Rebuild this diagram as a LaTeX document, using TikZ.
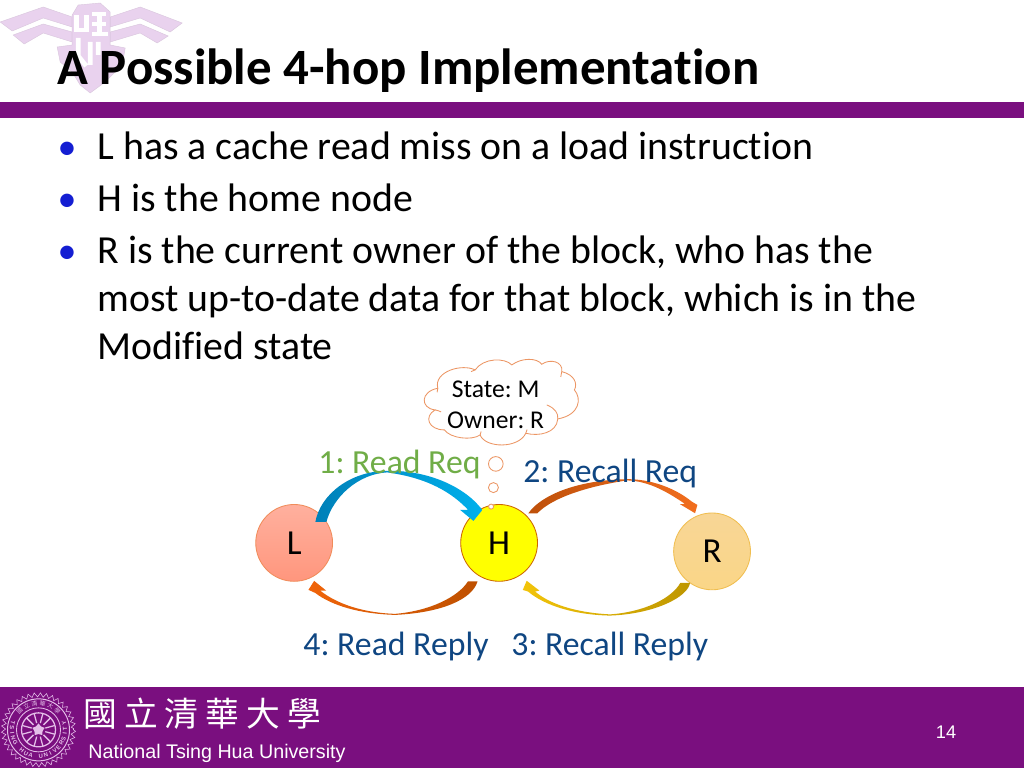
\documentclass[tikz,border=0pt]{standalone}
\usepackage{fontspec}
\setmainfont[Ligatures=NoCommon]{Carlito}
\newfontfamily\arialfont{Liberation Sans}
\newfontfamily\cjkfont{Noto Sans CJK TC}
\frenchspacing
\usetikzlibrary{calc,shapes.geometric,decorations.pathmorphing}
\definecolor{nthupurple}{RGB}{122,15,127}
\definecolor{logopink}{RGB}{233,210,238}
\definecolor{sealpink}{RGB}{228,190,232}
\definecolor{bulletblue}{RGB}{20,30,210}
\definecolor{msgblue}{RGB}{15,70,130}
\definecolor{msggreen}{RGB}{112,173,71}
\definecolor{cloudedge}{RGB}{236,150,100}
\definecolor{hopyellow}{RGB}{255,255,0}

\begin{document}
\begin{tikzpicture}[
    x=0.025cm, y=-0.025cm,
    titletxt/.style={anchor=base west, inner sep=0, font=\fontsize{36.2}{42}\selectfont\bfseries},
    body/.style={anchor=base west, inner sep=0, font=\fontsize{28.3}{34}\selectfont},
    bullet/.style={anchor=base, inner sep=0, text=bulletblue, font=\fontsize{27}{30}\selectfont},
    msg/.style={anchor=base west, inner sep=0, text=msgblue, font=\fontsize{24}{29}\selectfont},
    hop/.style={circle, draw, line width=0.6pt, minimum size=1.92cm, inner sep=0, outer sep=0, font=\fontsize{25}{30}\selectfont},
    swoosh/.style={draw=none},
    puff/.style={circle, draw=cloudedge, fill=white, line width=0.6pt, inner sep=0},
    cloudline/.style={draw=cloudedge, line width=0.6pt},
    wing/.style={fill=logopink, draw=logopink!85!gray, line width=0.3pt},
    glyph/.style={draw=white, line width=3.4pt},
    sealtxt/.style={inner sep=0, text=sealpink, font=\arialfont\fontsize{4.2}{5}\selectfont\bfseries}
]

% Page
\path[fill=white] (0,0) rectangle (1024,768);

% Logo behind the title
\draw[wing] (0,22) -- (43,7) -- (72,17) -- (72,27) -- (43,18) -- (12,31) -- cycle;
\draw[wing] (13,35) -- (43,24) -- (72,32) -- (72,42) -- (43,33) -- (24,44) -- cycle;
\draw[wing] (182,23) -- (140,7) -- (110,17) -- (110,27) -- (140,18) -- (170,32) -- cycle;
\draw[wing] (168,36) -- (140,24) -- (110,32) -- (110,42) -- (140,33) -- (157,43) -- cycle;
\draw[wing] (78,5) -- (100,3) -- (110,12) -- (110,45) -- (125,48) -- (122,65) -- (105,82) -- (90,93) -- (80,85) -- (72,72) -- (60,62) -- (57,47) -- (72,45) -- (72,15) -- cycle;
\draw[glyph] (76,15) -- (76,30) -- (86,30) -- (86,15);
\draw[glyph] (92,14) -- (106,14) (92,24) -- (106,24) (92,34) -- (108,34) (99,14) -- (99,34);
\draw[glyph] (78,38) -- (78,56) -- (86,66) (90,42) -- (90,65) (98,42) -- (98,55);

% Title
\node[titletxt] (title) at (57,85) {A Possible 4-hop Implementation};
\path[fill=nthupurple] (0,102) rectangle (1024,118);

% Bullets
\node[bullet] (b1) at (67,159.5) {•};
\node[body] (l1) at (97,159.5) {L has a cache read miss on a load instruction};
\node[bullet] (b2) at (67,211.5) {•};
\node[body] (l2) at (97,211.5) {H is the home node};
\node[bullet] (b3) at (67,263.5) {•};
\node[body] (l3) at (97,263.5) {R is the current owner of the block, who has the};
\node[body] (l4) at (97,311.5) {most up-to-date data for that block, which is in the};
\node[body] (l5) at (97,359.5) {Modified state};

% Hops
\node[hop, draw={rgb,255:red,240;green,140;blue,90}, top color={rgb,255:red,255;green,176;blue,158}, bottom color={rgb,255:red,255;green,150;blue,125}] (L) at (294,543) {L};
\node[hop, draw=orange!80!black, fill=hopyellow] (H) at (499,543) {H};
\node[hop, draw={rgb,255:red,240;green,190;blue,80}, top color={rgb,255:red,248;green,214;blue,150}, bottom color={rgb,255:red,250;green,214;blue,135}] (R) at (712,551.5) {R};

% Directory entry
\begin{scope}[shift={(415,355)}, x=0.00833cm, y=-0.00833cm]
\draw[cloudline, fill=white] (68,100) .. controls (55,50) and (140,25) .. (180,45) .. controls (205,8) and (270,8) .. (290,30)
    .. controls (320,8) and (365,8) .. (380,28) .. controls (405,10) and (445,20) .. (440,50) .. controls (478,60) and (488,85) .. (478,105)
    .. controls (500,130) and (495,180) .. (428,192) .. controls (425,235) and (370,245) .. (332,235) .. controls (310,282) and (210,280) .. (195,240)
    .. controls (170,258) and (105,250) .. (88,225) .. controls (40,225) and (25,185) .. (60,165) .. controls (15,160) and (15,110) .. (68,100) -- cycle;
\draw[cloudline] (395,150) .. controls (420,160) and (430,175) .. (428,192);
\draw[cloudline] (68,100) -- (66,112);
\draw[cloudline] (60,165) .. controls (66,166) and (72,168) .. (78,171);
\draw[cloudline] (180,45) -- (168,50);
\draw[cloudline] (440,50) -- (437,66);
\draw[cloudline] (195,240) -- (198,230);
\draw[cloudline] (332,235) -- (336,224);
\end{scope}
\node[inner sep=0, align=center, font=\fontsize{18.2}{22}\selectfont] (dir) at (495.5,404.5) {State: M\\Owner: R};
\node[puff, minimum size=0.365cm] (p1) at (495.7,464) {};
\node[puff, minimum size=0.25cm] (p2) at (493.3,487.7) {};
\node[puff, minimum size=0.125cm] (p3) at (491,506.7) {};

% Arrows
\path[swoosh, left color={rgb,255:red,0;green,128;blue,184}, right color={rgb,255:red,0;green,176;blue,236}]
    (L.33) -- ++(-11,0) .. controls (320,495) and (350,471) .. (387,471) .. controls (425,470) and (460,485) .. (478,505)
    -- (482.3,510) -- (473.3,521) -- (460,510) -- (468,510) .. controls (452,493) and (428,478) .. (387,472.5) .. controls (358,474) and (333,497) .. (L.33) -- cycle;
\path[swoosh, left color={rgb,255:red,190;green,80;blue,10}, right color={rgb,255:red,242;green,110;blue,30}]
    ($(H.38)+(-1,-6)$) .. controls (541,495) and (578,480) .. (627,479.3) .. controls (650,479) and (675,488) .. (691.7,501.7)
    -- (697.3,505) -- (695,513.3) -- (680,504.3) -- (685,504) .. controls (670,494) and (650,481) .. (627,480.5) .. controls (590,486) and (553,497) .. ($(H.38)+(8,-6)$) -- cycle;
\path[swoosh, left color={rgb,255:red,242;green,196;blue,10}, right color={rgb,255:red,190;green,150;blue,0}]
    (R.235) .. controls (688,597) and (655,614) .. (610,615.7) .. controls (575,615) and (545,606) .. (528,591.7)
    -- (522.7,590) -- ($(H.-54)+(5,6.8)$) -- (539.3,590.7) -- (535,591.7) .. controls (552,606) and (580,613) .. (610,614.5) .. controls (645,612) and (672,598) .. ($(R.235)+(-9.7,0)$) -- cycle;
\path[swoosh, left color={rgb,255:red,240;green,100;blue,10}, right color={rgb,255:red,190;green,80;blue,0}]
    ($(H.240)+(-2.4,5.3)$) .. controls (472,600) and (440,613) .. (395,615) .. controls (360,614) and (332,606) .. (315,593)
    -- (308.3,590) -- (314,581) -- (326,590.7) -- (320,590.7) .. controls (338,605) and (365,613) .. (395,614) .. controls (430,611) and (458,597) .. ($(H.240)+(-12,5.3)$) -- cycle;

% Message labels
\node[msg, text=msggreen] (m1) at (318,474) {1: Read Req};
\node[msg] (m2) at (523,483) {2: Recall Req};
\node[msg] (m3) at (511,656) {3: Recall Reply};
\node[msg] (m4) at (303,656) {4: Read Reply};

% Footer
\path[fill=nthupurple] (0,687) rectangle (1024,768);
\node[circle, minimum size=1.55cm, draw=sealpink, line width=0.7pt, inner sep=0] (seal) at (38.3,730) {};
\draw[sealpink, line width=0.4pt, decorate, decoration={zigzag, segment length=4.2pt, amplitude=1.5pt}] (seal.center) ++(35,0) arc[start angle=0, end angle=360, radius=35];
\node[circle, minimum size=1.1cm, draw=sealpink, line width=0.6pt, inner sep=0] (sealin) at (seal) {};
\node[circle, minimum size=0.85cm, draw=sealpink, line width=0.9pt, inner sep=0] (sealhub) at (seal) {};
\foreach \a in {15,45,...,345}
    \draw[sealpink, line width=0.9pt] ($(seal)+(\a:7)$) -- ($(seal)+(\a:17)$);
\node[star, star points=5, fill=sealpink, minimum size=0.32cm, inner sep=0] (sealstar) at (seal) {};
\foreach \ch [count=\i] in {T,S,I,N,G,{},H,U,A,{},U,N,I,V,E,R,S,I,T,Y} {
    \pgfmathsetmacro{\a}{195-(\i-1)*11}
    \node[sealtxt, rotate={90-\a}] (sb\i) at ($(seal)+(\a:26.5)$) {\ch};
}
\foreach \ch [count=\i] in {國,立,清,華,大,學} {
    \pgfmathsetmacro{\a}{-90+(\i-3.5)*18}
    \node[sealtxt, font=\cjkfont\fontsize{4.2}{5}\selectfont, rotate={-90-\a}] (sc\i) at ($(seal)+(\a:26.5)$) {\ch};
}
\node[anchor=base west, inner sep=0, text=white, font=\cjkfont\fontsize{24}{24}\selectfont] (cname) at (83,727) {國\kern5pt 立\kern5pt 清\kern5pt 華\kern5pt 大\kern5pt 學};
\node[anchor=base west, inner sep=0, text=white, font=\arialfont\fontsize{14}{16}\selectfont] (ename) at (88,759) {National Tsing Hua University};
\node[anchor=base, inner sep=0, text=white, font=\arialfont\fontsize{13}{15}\selectfont] (pageno) at (946,739) {14};

\end{tikzpicture}
\end{document}
